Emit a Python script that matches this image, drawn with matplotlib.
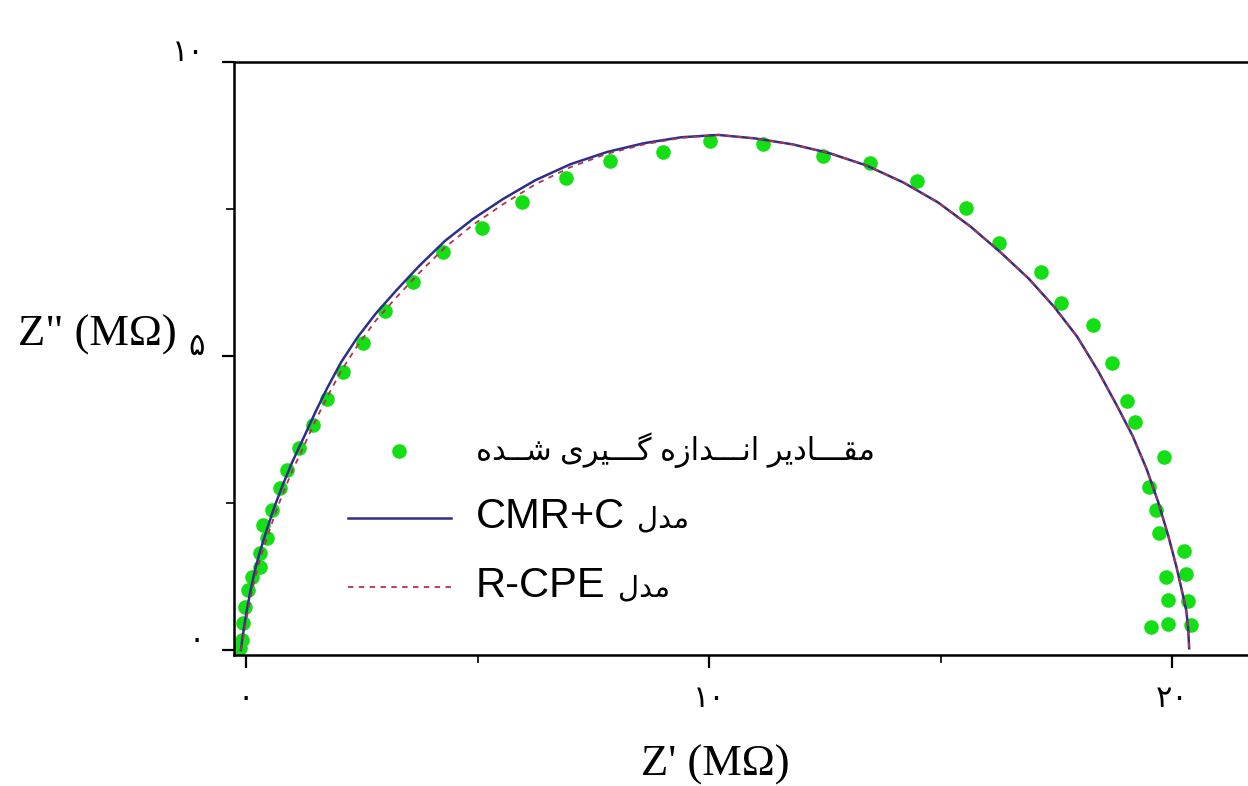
import matplotlib
matplotlib.use("Agg")
import matplotlib.pyplot as plt
import matplotlib.transforms as mtransforms
from matplotlib.ticker import FixedLocator

measured_re = [-0.13, -0.09, -0.06, -0.02, 0.04, 0.13, 0.30, 0.30, 0.45, 0.37,
               0.56, 0.73, 0.89, 1.14, 1.45, 1.75, 2.09, 2.53, 3.00, 3.61,
               4.25, 5.10, 5.96, 6.91, 7.86, 9.01, 10.02, 11.17, 12.46, 13.48,
               14.49, 15.55, 16.26, 17.17, 17.60, 18.29, 18.70, 19.03, 19.20, 19.83,
               19.50, 19.65, 19.72, 20.26, 19.87, 20.30, 19.91, 20.35, 19.55, 19.91,
               20.41]
measured_im = [0.03, 0.17, 0.46, 0.73, 1.02, 1.24, 1.41, 1.65, 1.90, 2.13,
               2.38, 2.76, 3.06, 3.44, 3.83, 4.27, 4.73, 5.22, 5.77, 6.26,
               6.77, 7.18, 7.62, 8.03, 8.32, 8.47, 8.66, 8.61, 8.40, 8.28,
               7.98, 7.52, 6.92, 6.43, 5.90, 5.53, 4.88, 4.23, 3.88, 3.28,
               2.77, 2.38, 1.99, 1.68, 1.24, 1.29, 0.85, 0.83, 0.39, 0.44,
               0.43]

# model curves
model_re = [-0.11, -0.08, -0.04, 0.02, 0.10, 0.20, 0.30, 0.45, 0.62, 0.80,
            1.00, 1.25, 1.50, 1.75, 2.05, 2.40, 2.80, 3.25, 3.75, 4.30,
            4.90, 5.55, 6.25, 7.00, 7.80, 8.60, 9.40, 10.20, 11.00, 11.80,
            12.60, 13.40, 14.20, 14.95, 15.65, 16.30, 16.90, 17.45, 17.95, 18.40,
            18.80, 19.15, 19.45, 19.70, 19.92, 20.10, 20.23, 20.31, 20.35, 20.37]
cmr_im = [0.00, 0.19, 0.40, 0.69, 1.02, 1.38, 1.67, 2.05, 2.45, 2.82,
          3.20, 3.62, 4.05, 4.45, 4.89, 5.31, 5.72, 6.12, 6.54, 6.96,
          7.33, 7.67, 7.99, 8.26, 8.47, 8.62, 8.72, 8.76, 8.70, 8.60,
          8.45, 8.24, 7.95, 7.61, 7.20, 6.76, 6.32, 5.84, 5.33, 4.75,
          4.17, 3.64, 3.08, 2.52, 1.94, 1.40, 0.95, 0.66, 0.35, 0.03]
cpe_im = [0.00, 0.12, 0.30, 0.57, 0.90, 1.25, 1.54, 1.90, 2.30, 2.67,
          3.05, 3.47, 3.90, 4.30, 4.74, 5.17, 5.60, 6.00, 6.42, 6.85,
          7.23, 7.58, 7.92, 8.21, 8.44, 8.60, 8.71, 8.76, 8.70, 8.60,
          8.45, 8.24, 7.95, 7.61, 7.20, 6.76, 6.32, 5.84, 5.33, 4.75,
          4.17, 3.64, 3.08, 2.52, 1.94, 1.40, 0.95, 0.66, 0.35, 0.03]

x_ticks = [0, 10, 20]
x_ticklabels = ["۰", "۱۰", "۲۰"]
y_ticks = [0, 5, 10]
y_ticklabels = ["۰", "۵", "۱۰"]

labels = ["مقـــادیر انـــدازه گـــیری شــده", "مدل CMR+C", "مدل R-CPE"]

# matplotlib does no arabic shaping / bidi, so do a small version here
FORMS = {  # isolated, final, initial, medial
    "\u0627": ("\uFE8D", "\uFE8E", None, None),
    "\u062F": ("\uFEA9", "\uFEAA", None, None),
    "\u0631": ("\uFEAD", "\uFEAE", None, None),
    "\u0632": ("\uFEAF", "\uFEB0", None, None),
    "\u0645": ("\uFEE1", "\uFEE2", "\uFEE3", "\uFEE4"),
    "\u0642": ("\uFED5", "\uFED6", "\uFED7", "\uFED8"),
    "\u0646": ("\uFEE5", "\uFEE6", "\uFEE7", "\uFEE8"),
    "\u0647": ("\uFEE9", "\uFEEA", "\uFEEB", "\uFEEC"),
    "\u0634": ("\uFEB5", "\uFEB6", "\uFEB7", "\uFEB8"),
    "\u0644": ("\uFEDD", "\uFEDE", "\uFEDF", "\uFEE0"),
    "\u06CC": ("\uFBFC", "\uFBFD", "\uFBFE", "\uFBFF"),
    "\u06AF": ("\uFB92", "\uFB93", "\uFB94", "\uFB95"),
    "\u0640": ("\u0640", "\u0640", "\u0640", "\u0640"),
}


def is_fa(tok):
    return any(c in FORMS for c in tok)


def shape(word):
    out = []
    for i, c in enumerate(word):
        if c not in FORMS:
            out.append(c)
            continue
        prev = word[i - 1] if i > 0 else None
        nxt = word[i + 1] if i + 1 < len(word) else None
        jp = prev in FORMS and FORMS[prev][2] is not None
        jn = FORMS[c][2] is not None and nxt in FORMS
        iso, fin, ini, med = FORMS[c]
        if jp and jn:
            out.append(med)
        elif jp:
            out.append(fin)
        elif jn:
            out.append(ini)
        else:
            out.append(iso)
    return "".join(out)


def rtl(text):
    vis = []
    for tok in reversed(text.split(" ")):
        vis.append(shape(tok)[::-1] if is_fa(tok) else tok)
    return " ".join(vis)


plt.rcParams["font.family"] = ["Liberation Sans", "DejaVu Sans"]

fig = plt.figure(figsize=(12.48, 7.86), dpi=100)
ax = fig.add_axes([234 / 1248, 131 / 786, 1026 / 1248, 593 / 786])

# legend text: latin part in the legend, persian word (if mixed) beside it
leg_text, leg_extra = [], []
for lab in labels:
    toks = lab.split(" ")
    latin = [t for t in toks if not is_fa(t)]
    fa = [t for t in toks if is_fa(t)]
    if latin:
        leg_text.append(" ".join(latin))
        leg_extra.append(rtl(" ".join(fa)))
    else:
        leg_text.append(rtl(lab))
        leg_extra.append(None)

ax.plot(measured_re, measured_im, "o", color="#14de14", markersize=10.5,
        markeredgewidth=0, label=leg_text[0], zorder=2)
ax.plot(model_re, cmr_im, "-", color="#2e2e8c", linewidth=1.8,
        label=leg_text[1], zorder=3)
ax.plot(model_re, cpe_im, "--", color="#b0344a", linewidth=1.3,
        dashes=(3, 3), label=leg_text[2], zorder=4)

ax.set_xlim(-0.26, 21.9)
ax.set_ylim(-0.085, 10)

ax.set_xticks(x_ticks, x_ticklabels)
ax.set_yticks(y_ticks, y_ticklabels)
ax.xaxis.set_minor_locator(FixedLocator([5, 15]))
ax.yaxis.set_minor_locator(FixedLocator([2.5, 7.5]))
ax.tick_params(which="major", length=9, width=1.6, labelsize=22, pad=12,
               labelfontfamily="DejaVu Sans")
ax.tick_params(which="minor", length=6, width=1.2)
# persian digits of the y axis sit a bit above their ticks
shift = mtransforms.ScaledTranslation(0, 0.13, fig.dpi_scale_trans)
for t in ax.get_yticklabels():
    t.set_transform(t.get_transform() + shift)

for side in ["left", "bottom", "top"]:
    ax.spines[side].set_linewidth(1.8)
ax.spines["right"].set_visible(False)

ax.set_xlabel("Z' (MΩ)", fontsize=32, family="Liberation Serif", va="center")
ax.xaxis.set_label_coords(0.469, -0.185)
ax.set_ylabel('Z" (MΩ)', fontsize=32, family="Liberation Serif",
              rotation=0, ha="right", va="center")
ax.yaxis.set_label_coords(-0.056, 0.54)

leg = ax.legend(loc="upper left", bbox_to_anchor=(0.111, 0.375), frameon=False,
                fontsize=20, numpoints=1, handlelength=3.7, handletextpad=0.9,
                labelspacing=1.04, borderpad=0, borderaxespad=0)
for txt, extra in zip(leg.get_texts(), leg_extra):
    if extra is None:
        txt.set_fontsize(22)
    else:
        txt.set_fontsize(30)
        ax.annotate(extra, xy=(1, 0.45), xycoords=txt, xytext=(9, 0),
                    textcoords="offset points", ha="left", va="center",
                    fontsize=21, zorder=6)

plt.savefig("out.png", dpi=100)
